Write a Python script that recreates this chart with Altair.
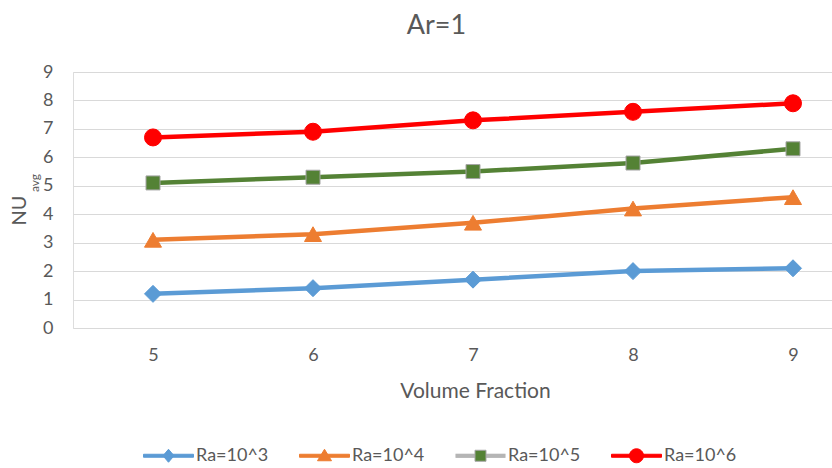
import altair as alt
import pandas as pd

# ---- data ----
volume_fraction = [5, 6, 7, 8, 9]
series_names = ["Ra=10^3", "Ra=10^4", "Ra=10^5", "Ra=10^6"]
nu_ra3 = [1.2, 1.4, 1.7, 2.0, 2.1]
nu_ra4 = [3.1, 3.3, 3.7, 4.2, 4.6]
nu_ra5 = [5.1, 5.3, 5.5, 5.8, 6.3]
nu_ra6 = [6.7, 6.9, 7.3, 7.6, 7.9]
y_ticks = [0, 1, 2, 3, 4, 5, 6, 7, 8, 9]

# ---- styles ----
line_colors = ["#5B9BD5", "#ED7D31", "#548235", "#FF0000"]
marker_fill = ["#5B9BD5", "#ED7D31", "#548235", "#FF0000"]
marker_stroke = ["#5B9BD5", "#ED7D31", "#A5A5A5", "#FF0000"]
marker_shapes = ["diamond", "triangle-up", "square", "circle"]
marker_sizes = [289, 289, 196, 289]
LINE_BAR = "M-1,-0.06L1,-0.06L1,0.06L-1,0.06Z"
GRAY_BAND = "".join(
    f"M-1,{d}L-0.22,{d}M0.22,{d}L1,{d}" for d in ("-0.06", "-0.02", "0.02", "0.06")
)
legend_symbol_paths = [
    LINE_BAR + "M-0.22,0L0,-0.26L0.22,0L0,0.26Z",
    LINE_BAR + "M0,-0.26L0.28,0.2L-0.28,0.2Z",
    GRAY_BAND + "M-0.22,-0.22L0.22,-0.22L0.22,0.22L-0.22,0.22Z",
    LINE_BAR + "M-0.28,0A0.28,0.28,0,1,1,0.28,0A0.28,0.28,0,1,1,-0.28,0Z",
]
TXT = "#595959"
FONT = "Lato"

rows = []
for name, vals in zip(series_names, [nu_ra3, nu_ra4, nu_ra5, nu_ra6]):
    for xv, yv in zip(volume_fraction, vals):
        rows.append({"vf": xv, "nu": yv, "series": name, "lkey": "_" + name})
df = pd.DataFrame(rows)
line_keys = ["_" + s for s in series_names]

x_enc = alt.X(
    "vf:Q",
    scale=alt.Scale(domain=[4.5, 9.24375], nice=False, zero=False),
    axis=alt.Axis(
        values=volume_fraction, format="d", title="Volume Fraction",
        grid=False, domain=False, ticks=False, labelPadding=18,
        labelFontSize=18, labelColor=TXT, labelFont=FONT,
        titleFontSize=21, titleColor=TXT, titleFont=FONT, titleFontWeight="normal",
        titleX=402, titleY=63, titleBaseline="middle", titleAlign="center",
    ),
)
y_enc = alt.Y(
    "nu:Q",
    scale=alt.Scale(domain=[0, 9], nice=False),
    axis=alt.Axis(
        values=y_ticks, format="d", title="NU",
        grid=True, gridColor="#D9D9D9", gridWidth=1,
        domain=False, ticks=False, labelPadding=20,
        labelFontSize=18, labelColor=TXT, labelFont=FONT,
        titleFontSize=20, titleColor=TXT, titleFont=FONT, titleFontWeight="normal",
        titleAngle=-90, titleX=-54, titleY=138, titleBaseline="middle", titleAlign="center",
    ),
)

lines = alt.Chart(df).mark_line(strokeWidth=4.5).encode(
    x=x_enc, y=y_enc,
    color=alt.Color("lkey:N", scale=alt.Scale(domain=line_keys, range=line_colors), legend=None),
)

layers = [lines]
for i, name in enumerate(series_names):
    layers.append(
        alt.Chart(df).transform_filter(alt.datum.series == name)
        .mark_point(shape=marker_shapes[i], size=marker_sizes[i], filled=True, opacity=1,
                    strokeWidth=1, fill=marker_fill[i], stroke=marker_stroke[i])
        .encode(x=x_enc, y=y_enc)
    )

leg = alt.Legend(
    orient="none", legendX=70, legendY=358, direction="horizontal", title=None,
    symbolSize=2500, symbolStrokeWidth=1, labelFontSize=18, labelFont=FONT, labelColor=TXT,
    columnPadding=28, labelOffset=2,
)
legend_layer = alt.Chart(df).transform_filter("false").mark_point(filled=True, opacity=1).encode(
    x=x_enc, y=y_enc,
    fill=alt.Fill("series:N", scale=alt.Scale(domain=series_names, range=marker_fill), legend=leg),
    stroke=alt.Stroke("series:N", scale=alt.Scale(domain=series_names, range=marker_stroke), legend=leg),
    shape=alt.Shape("series:N", scale=alt.Scale(domain=series_names, range=legend_symbol_paths), legend=leg),
)
layers.append(legend_layer)

sub = alt.Chart(pd.DataFrame({"t": ["avg"]})).mark_text(
    angle=270, fontSize=12, font=FONT, color=TXT, baseline="middle", align="center"
).encode(text="t:N", x=alt.value(-38), y=alt.value(111))
layers.append(sub)

chart = alt.layer(*layers).properties(
    width=759, height=256,
    title=alt.TitleParams("Ar=1", fontSize=27, font=FONT, color=TXT, fontWeight="normal",
                          offset=23, dx=-16),
    autosize=alt.AutoSizeParams(type="none"),
    padding={"left": 73, "top": 72, "right": 0, "bottom": 140},
).configure_view(stroke=None).configure(background="white")

chart.save("out.html", embed_options={"renderer": "svg", "actions": False})
